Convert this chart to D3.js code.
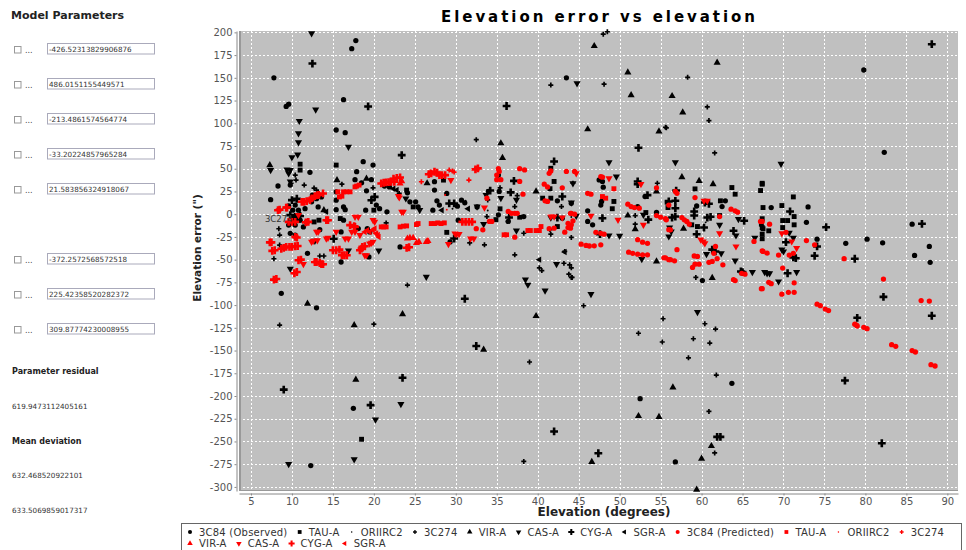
<!DOCTYPE html>
<html>
<head>
<meta charset="utf-8">
<script src="https://cdn.jsdelivr.net/npm/d3@7"></script>
<style>
  body { margin: 0; background: #fff; }
  text { font-family: "DejaVu Sans", sans-serif; }
</style>
</head>
<body>
<script>
// values
const paramValues = ["-426.52313829906876", "486.0151155449571", "-213.4861574564774",
  "-33.20224857965284", "21.583856324918067", null, "-372.2572568572518",
  "225.42358520282372", "309.87774230008955"];
const residual = "619.9473112405161";
const meanDevs = ["632.468520922101", "633.5069859017317"];

const xTicks = d3.range(5, 91, 5);
const yTicks = d3.range(-300, 201, 25);

const seriesNames = ["3C84", "TAU-A", "ORIIRC2", "3C274", "VIR-A", "CAS-A", "CYG-A", "SGR-A"];

// observed (black)
const obs3C84 = [[7.8,150],[17.3,182],[17.8,191],[16.3,126],[9.3,118.5],[9.6,121],[8.3,31],[7.4,16],[8.7,-87],
  [12.2,46],[15.4,92.6],[16.5,89.7],[16,-52.6],[19.4,-47],[23.2,-36],[27.4,35.7],[13,-103],[12.3,-276.5],
  [17.5,-213.5],[43.5,150],[48,29.7],[52.2,8.4],[54.5,2],[53.1,19.4],[59.4,9],[62.5,8.4],[60.1,-73],
  [56.8,-272.5],[63.7,-186],[52.5,-203],[68.5,7.3],[73,8],[72.8,-9],[74.1,-27.5],[77.6,-32],[79.8,158.6],
  [82.3,68],[85.7,-11],[80.2,-27.5],[82.1,-31.5],[87.8,-35.5],[86,-45.4],[87.9,-53],[10.4,10],[9.6,9],
  [10.1,4.4],[10.8,4.4],[11.6,6],[9.6,-12],[11.8,-8.5],[11.4,-14],[10.4,-23],[9.8,-21],[11.9,-43],
  [12.4,13.6],[13,17],[12.5,21],[13.6,19],[13.2,8],[13.4,-17],[15.4,24.6],[15.4,15.4],[16.3,8],[16.5,5],
  [15.4,5],[16.3,-6.6],[16,-19.5],[18.7,57.7],[17.9,46.7],[17.7,38],[18.5,34.5],[19.9,54],[19.7,38],
  [19.1,25.7],[19,4.4],[20.7,6],[20.3,10],[19.2,-15.8],[19.5,-19.5],[18.1,-15.8],[21.6,2.6],[21.3,31],
  [21.9,30],[24.1,23.5],[24.4,13.6],[25.1,13.6],[25.4,8],[27.4,26.5],[27.7,14.7],[28,10],[27.2,4.4],
  [28.9,22.8],[30.2,8.8],[30.3,-6.6],[29.3,-30.5],[30.7,15.4],[32.6,8],[31.1,12.5],[38.3,-2.6],[36.4,-8],
  [35.2,-0.7],[35.3,25],[35.2,43],[34,25],[42.4,14.7],[44.1,12],[43,-4.4],[47.5,37.7],[47.9,36],
  [47.8,14],[47.7,10],[46.1,3.7],[46.1,-8],[46.7,-11.7],[62.9,14.7],[9.8,32],[10.4,-12],[11,-6.6]];
const obsTAUA = [[11,55],[15.4,54],[24,26.5],[28.5,37.5],[28.9,-20],[41.6,50.5],[42,36],[41.5,28],[40.6,17.6],
  [41.6,17.6],[42.4,-13.6],[37.8,-3.3],[35.4,5.9],[34.9,-6],[49.3,14],[49.1,6],[53.2,1.8],[55.8,13.2],
  [55.9,7.3],[59.2,27.8],[63.7,29.3],[64.1,22],[67.4,34],[67.2,26],[67.5,7.3],[62.3,14.7],[62.2,-1.5],
  [58.8,-11.7],[59.5,-13.6],[67.4,-27],[67.4,-14.7],[67.3,-11],[67.4,-5],[67.4,33],[71.2,19],[69.8,9.5],
  [71.3,-2.6],[71.3,-11.7],[69.9,-7],[70.5,-7],[69.9,-14.7],[18.5,-247.6],[11,48.5],[13.3,-6.6],
  [15.9,-4.8],[20,4.4],[24.8,8],[12.7,-8.5],[10.2,-6.6],[10.8,-6.6],[67.5,-16],[67.4,-22],[68.2,-18.3]];
const obsORIIRC2 = [[14.4,-8.5],[29.6,6],[31.2,14.7],[36.2,-8],[44.1,-3],[60.5,-9],[33.9,4]];
const obs3C274 = [[8.4,-16],[8.5,-34],[7.8,-49],[11.5,32],[13.4,-46],[13.9,-46],[16.1,33],[8.5,-122],[20,-121],
  [24.1,-78],[41.6,142],[32.5,82],[43.3,-41],[43.2,-54],[43.9,-55.7],[44.2,-69.6],[43.8,-66],[40.5,-62],
  [40.2,-59],[39,-162.6],[38.3,-272],[37.2,-44.7],[38.3,-21],[37.2,8.4],[37.5,20.5],[35.4,29],[33.9,15.7],
  [33.8,-2.6],[33.5,-33.7],[44.3,34],[42.9,8.4],[41.5,-17],[41.6,-22],[44.1,-25.6],[48,198],[48.5,200.7],
  [48.1,143],[55.6,95.6],[54.6,34],[51.9,-1.5],[51.9,-11],[44.1,-59],[44.1,-69.6],[45.6,-100.7],
  [55.3,-115],[52.3,-131],[55.2,-140.6],[58.3,150.5],[60.7,118],[60.9,103],[55.7,95],[61.6,67.4],
  [59.3,-69.6],[60.4,-120.5],[61.7,-126.4],[59,-137],[61,-141.8],[58.4,-158],[61.8,-177],[60.9,-217],
  [61.6,-262.6],[12.7,28.7],[13,26.5],[19.9,29],[21.5,-9.6],[23.1,22.8],[31.7,-31.6],[10.4,43],[10.5,37.5],
  [8.5,-23],[9.9,34]];
const obsVIRA = [[7.3,54],[11.9,-98.5],[17.6,-122],[17.8,-182],[23.5,-110],[33.4,-149],[35.5,78],[35.7,62],
  [39.8,25],[39.8,-112],[46.9,185],[51,156],[51.4,131],[46.1,93.4],[54.8,91],[54.5,25],[51,-1.5],
  [51.9,-16.5],[54.5,-52],[52.3,-222],[54.8,-223],[46.6,-272.5],[61.9,166.7],[56.4,130],[57.7,112],
  [57.6,40.7],[59.7,36.6],[61.4,33],[57.8,-16],[61.3,-70],[56.5,-190.5],[61.2,-255],[60,-269],[59.4,-303],
  [19.1,39],[15.5,37.5],[26.5,34],[13.9,4.4]];
const obsCASA = [[7.4,48.5],[12.4,199],[12.9,115],[9.4,49],[9.8,48.5],[9.6,45],[10,62.5],[10.7,65.5],[10.8,79],
  [10.8,89],[10.9,102.5],[16.9,74],[9.8,-60],[12.8,-29.4],[16.9,-40],[26.4,-69],[9.6,-275],[17.6,-269.6],
  [20.2,-226],[23.3,-209],[37.4,15.7],[35.5,17.6],[33.7,21],[33.4,-11],[32.6,8.4],[37.4,-18],[41.6,-3.7],
  [42.3,-55],[40.9,-84],[38.5,-72],[38.8,-77.6],[44.8,144],[48.7,57],[49.6,41.4],[44.3,34],[44.7,-1.8],
  [44.1,12.8],[52.9,-0.7],[48.7,-23.4],[50,-23.8],[52.7,-49.5],[56,-24.5],[46.5,-88],[56.8,57],
  [56.1,-14.7],[56.3,-19],[62.2,-11.7],[64.5,-5.5],[64.2,-23.4],[60.6,-44],[62.4,-43],[64.1,-51],
  [66.2,-63.7],[67.7,-63.7],[66.5,-26],[59.5,-107.7],[69.7,55.3],[70.7,-20.5],[71.2,-26],[69.8,-39],
  [70,-41],[68,-65],[68.3,-65],[71.6,-63.7],[69.4,-74],[23.9,17.3],[25.6,4.4],[20.6,-40],[9.8,36]];
const obsCYGA = [[12.5,165.7],[19.3,118.5],[23.4,65],[9,-193],[19.6,-210],[23.5,-180],[32.5,-145],[31.1,-93],
  [36.2,119],[42,58],[43,19.4],[37.1,36.6],[36.7,24],[34.2,26],[36.5,-3.7],[42.4,-3.7],[42,-239],[52.3,73],
  [52.2,36],[52.2,33],[53.4,21],[53.5,-6],[47.9,-4.4],[47.6,-22],[47.4,-263],[56.9,26],[56,14],[56.8,14.7],
  [56.8,6.6],[56.4,-3.7],[56.8,-2.6],[59.1,3],[59.1,-1.5],[60.4,12.8],[60.9,11.4],[60.7,-3.7],[61.1,-2.9],
  [60.3,-14.7],[59.4,-22],[65.2,-7.3],[63.9,-18.3],[61.3,-39],[61.7,-41],[64.8,-63],[65,-63.7],[61.9,-245],
  [62.3,-245],[70.8,3],[75.2,-14.3],[70.3,-30.8],[73.8,-45.8],[74.1,-35.5],[78.7,-49],[70.5,-65],
  [71.2,-47.6],[71.5,-48.4],[79,-114],[77.5,-183],[88.1,187],[86.9,-10.6],[82.2,-91],[88.1,-111.7],
  [82,-252],[15.1,-27],[29.8,-26.8],[20.1,19],[19.7,15.4],[10.6,17],[10,15.5],[11,-2],[10.4,-3],[9.8,-1],
  [29.2,11.8],[29.8,11.8]];
const obsSGRA = [[14.2,2.6],[28.3,4.4],[31.5,6],[22.4,28],[22.8,26.5],[40.2,-50],[43.3,-41.5]];

// predicted (red)
const pred3C84 = [[33.8,17.6],[35.2,50],[35.3,47],[35,43],[35,38],[35.5,38],[37.8,50],[38.4,48.7],[41.6,47.6],
  [41.4,45],[43.5,47],[44.5,47],[37.8,36],[40.8,33],[41.2,30],[43,29],[38.2,22],[40.9,14.7],[41.2,14],
  [44,1],[44.3,-7.3],[43.7,-10],[36.4,3],[36.8,1],[37.2,1],[37.5,1],[34.1,-8],[34.4,-8],[37.2,-25.3],
  [41.4,-16],[42,-15.4],[43.3,-19.8],[43.7,-14.7],[32.5,-16],[33.3,-17.2],[32.6,50],[47.7,41.4],
  [47.9,40.7],[46.1,23],[46.5,22],[44.1,1],[44.5,0],[44.1,-11.7],[44,-15.4],[47.1,-20],[47.7,-21],
  [48.1,-22],[45.3,-33],[45.9,-34.4],[46.3,-35],[46.9,-34.8],[47.7,-33.7],[51,11],[51.4,8.4],[51.8,7.3],
  [52.4,6.6],[54.5,29],[52.2,-28],[52.8,-30.8],[53.4,-32],[51.1,-41.8],[51.6,-43],[52.2,-44],[52.8,-44.7],
  [53.4,-44.7],[54.5,-1.5],[55,-3.3],[55.7,-6.2],[56,10],[56,-17],[55.4,-48],[56,-50],[56.8,25],[57,23],
  [59.2,18.3],[63.6,5.5],[64.1,3.7],[64.4,2.2],[55.6,-5],[56.2,-17.2],[57.6,-3.7],[57.9,-6.2],[58.2,-8],
  [58.5,-11],[62.2,-2.6],[61.7,-35.5],[61.5,-43],[61.9,-49],[60.9,-53],[61.3,-52],[59.1,-46],[59.5,-46.5],
  [58.9,-58.6],[59.2,-55],[59.7,-55],[57,-39],[55.6,-48],[56.2,-50],[56.7,-51.3],[62.6,-55.7],[63.9,-72],
  [64.1,-73],[64.9,-65],[65.3,-66],[66.4,-30],[67.2,-8],[67.5,-41],[67.3,-82],[67.4,-8],[68.3,-11],
  [70.3,-20],[72.8,-29],[73.8,-33.7],[67.4,-40.3],[68,-42.9],[69.4,-45],[70.7,-45],[71.2,-43],[69.9,-59.3],
  [67.4,-82],[68.2,-75],[68.5,-76.5],[71.3,-75.5],[69.8,-88],[70.6,-86],[71.3,-86],[74.1,-99],[74.5,-100.7],
  [75.1,-104.4],[75.5,-106],[77.4,-49],[78.7,-121],[79,-123],[82.2,-71.4],[86.8,-95],[87.8,-95.6],
  [78.9,-122],[79.8,-124.5],[80.2,-126],[83.2,-143.6],[83.7,-145.4],[85.7,-150],[86.1,-151.6],[88,-165.6],
  [88.5,-167]];
const predTAUA = [[15.6,24.6],[15.8,19],[16.1,19.8],[16.3,24.6],[16.7,24.6],[17.1,24.6],[17.7,30],[17.9,30.9],
  [18.2,32],[20.9,-14],[21.2,-14],[21.5,-14],[23.2,-14],[23.6,-13.2],[24,-12.9],[25.2,-11.4],[25.4,-10.3],
  [27,-10.3],[27.4,-10.3],[27.8,-9.6],[28.2,-10.3],[28.6,-9.6],[35.9,-22.7],[36.2,-22.7],[38.8,-18],
  [39.1,-18],[39.8,-18],[40.2,-18],[40.4,-13.6],[49.3,28],[47.9,19.4],[48.3,17.6]];
const predORIIRC2 = [[28.7,21],[28.9,5]];
const pred3C274 = [[25.8,35.7],[31.6,37.5],[29.2,48.5],[29.6,47.4],[29.8,46.3]];
const predVIRA = [[24.1,-26.8],[24.4,-26],[24.8,-26],[25.2,-31.6],[25.5,-30.5],[26.4,-30.5],[26.6,-29.4],
  [23.2,33.8],[23.4,36.4]];
const predCASA = [[10.8,-1],[11.4,-55],[13,-19.5],[13.2,-19.5],[12.4,-30.5],[12.6,-29.4],[13.1,-28.7],
  [14.2,-26.8],[14.4,-26],[15.4,-19.5],[16.5,-26.8],[16.9,-26.8],[17.3,-19.5],[17.7,-19.5],[17.7,-3],
  [18.1,-3],[18.9,-45.2],[19.1,-45.2],[18.3,-23],[19.5,-32.4],[19.7,-31.6],[19.9,-30.5],[20.1,-8.5],
  [19.9,-6.6],[23,19.8],[23.1,18.4],[23.4,2.6],[23.6,2.6],[29.4,37.5],[29.1,-33],[29.9,-21.3],[30.1,-22],
  [30.4,-22],[31.8,-26.8],[32.2,-26.8],[33.5,7.3],[41.6,-2.6],[42,-2.6],[43,-3.7],[44.7,45],[48.7,39.5],
  [46.5,-1.8],[49.8,-6.2],[52.6,33],[52.9,-11.7],[60.3,14.7],[60.7,14.7],[59.9,-28],[60.2,-30],[60.4,-32],
  [62.2,-21],[69.8,-21],[71,-30],[71.6,-37.4],[64.2,-35.5]];
const predCYGA = [[7.3,-31],[7.5,-31],[7.6,-40.4],[7.9,-39.7],[7.8,-72],[8.1,-71.3],[8.3,4.4],[8.5,5],[9.3,7.3],
  [9.4,7.3],[8.7,-38],[9,-37],[9.3,-36],[9.7,-36],[10,-36],[10.4,-35.3],[10.7,-35],[9.6,-8.5],[10,-8.5],
  [10.4,-8.5],[10.3,-65],[10.6,-63.6],[10.4,-25],[10.6,-25.7],[11.2,13.6],[11.5,13.6],[11.8,14.3],
  [12.2,15.4],[12.4,17.3],[10.8,-50.7],[11.1,-50],[11.7,-9],[12,-8.5],[12.8,-52.6],[13,-52.6],[13.4,-53.7],
  [13.6,-55],[13.8,-55],[12.8,19.8],[13.1,21],[13.3,21.3],[13.8,22.8],[14.2,-6.6],[14.4,-6.6],[15,-39.7],
  [15.4,-39.7],[15.8,-39],[16.1,-45.2],[16.4,-45.2],[16.7,-45.2],[17.1,-12],[17.6,-13.2],[17.7,-14],
  [18.3,-39.7],[18.5,-37.9],[18.6,-36],[18.9,-35.3],[20.9,33.8],[21.2,34.6],[21.5,35],[21.8,35.3],
  [22.1,35.7],[22.5,35.7],[22.4,39],[22.8,40],[23.2,40.4],[24,-37],[24.3,-36.4],[26.7,44],[27,44.8],
  [27.4,46.7],[27.7,45.6],[28,43],[28.3,43],[28.7,43],[30.8,-8.5],[31.2,-8.5],[31.6,-8.5],[32,-8.5],
  [32.4,49.3],[32.7,50.4]];
const predSGRA = [[20.3,-21.3],[20.5,-23],[20.6,-25],[18.9,-19.5],[19.2,-17.6],[19.5,-19.5],[19.9,-17.6],
  [20.1,-15.8]];

const observed = [obs3C84, obsTAUA, obsORIIRC2, obs3C274, obsVIRA, obsCASA, obsCYGA, obsSGRA];
const predicted = [pred3C84, predTAUA, predORIIRC2, pred3C274, predVIRA, predCASA, predCYGA, predSGRA];

// marker per series: [d3 symbol, area, rotation]
const shapes = [
  [d3.symbolCircle, 22, 0],
  [d3.symbolSquare, 24, 0],
  [d3.symbolCircle, 3, 0],
  [d3.symbolCross, 14, 0],
  [d3.symbolTriangle, 22, 0],
  [d3.symbolTriangle, 22, 180],
  [d3.symbolCross, 34, 0],
  [d3.symbolTriangle, 18, -90]
];

const W = 966, H = 550;
const svg = d3.select("body").append("svg").attr("width", W).attr("height", H);

// ---- left panel
const side = svg.append("g");
side.append("text").attr("x", 11).attr("y", 18.5).attr("font-size", 11).attr("font-weight", "bold")
  .attr("fill", "#222").text("Model Parameters");
paramValues.forEach((v, i) => {
  if (v === null) return;
  const top = 43 + i * 35;
  side.append("rect").attr("x", 14.5).attr("y", top + 3.5).attr("width", 6.5).attr("height", 6.5)
    .attr("fill", "#fff").attr("stroke", "#999");
  side.append("text").attr("x", 25).attr("y", top + 10).attr("font-size", 8).attr("fill", "#444").text("...");
  side.append("rect").attr("x", 47.5).attr("y", top + 0.5).attr("width", 107).attr("height", 10.5)
    .attr("fill", "#fff").attr("stroke", "#aab");
  side.append("text").attr("x", 49).attr("y", top + 8.8).attr("font-size", 7.2).attr("fill", "#333").text(v);
});
side.append("text").attr("x", 12).attr("y", 374).attr("font-size", 8).attr("font-weight", "bold")
  .attr("fill", "#222").text("Parameter residual");
side.append("text").attr("x", 12).attr("y", 408.5).attr("font-size", 7.2).attr("fill", "#333").text(residual);
side.append("text").attr("x", 12).attr("y", 444).attr("font-size", 8).attr("font-weight", "bold")
  .attr("fill", "#222").text("Mean deviation");
meanDevs.forEach((v, i) => {
  side.append("text").attr("x", 12).attr("y", 478 + i * 35).attr("font-size", 7.2).attr("fill", "#333").text(v);
});

// ---- chart
const x = d3.scaleLinear().domain([3.54, 91.3]).range([239, 958]);
const y = d3.scaleLinear().domain([-304.5, 201.5]).range([491, 31]);

// title is letter-spaced in the original
svg.append("text").attr("x", 598).attr("y", 22).attr("text-anchor", "middle")
  .attr("font-size", 15).attr("font-weight", "bold").attr("fill", "#000")
  .attr("textLength", 314).attr("lengthAdjust", "spacing")
  .text("Elevation error vs elevation");

svg.append("rect").attr("x", 239).attr("y", 31).attr("width", 719).attr("height", 460).attr("fill", "#c0c0c0");

const grid = svg.append("g").attr("stroke", "#fff").attr("stroke-dasharray", "2,2").attr("stroke-width", 1);
grid.selectAll(".gx").data(xTicks).enter().append("line")
  .attr("x1", d => Math.round(x(d)) + 0.5).attr("x2", d => Math.round(x(d)) + 0.5)
  .attr("y1", 31).attr("y2", 491);
grid.selectAll(".gy").data(yTicks).enter().append("line")
  .attr("y1", d => Math.round(y(d)) + 0.5).attr("y2", d => Math.round(y(d)) + 0.5)
  .attr("x1", 239).attr("x2", 958);

// plot edges
svg.append("line").attr("x1", 240).attr("x2", 240).attr("y1", 31).attr("y2", 491).attr("stroke", "#999").attr("stroke-width", 2);
svg.append("line").attr("x1", 239).attr("x2", 958).attr("y1", 490.5).attr("y2", 490.5).attr("stroke", "#999");

const yAxis = svg.append("g").attr("transform", "translate(236.5,0)")
  .call(d3.axisLeft(y).tickValues(yTicks).tickSize(2).tickSizeOuter(0).tickPadding(2).tickFormat(d => String(d)));
const xAxis = svg.append("g").attr("transform", "translate(0,493.5)")
  .call(d3.axisBottom(x).tickValues(xTicks).tickSize(2).tickSizeOuter(0).tickPadding(2).tickFormat(d => String(d)));
[yAxis, xAxis].forEach(a => {
  a.selectAll("path.domain").attr("stroke", "#888");
  a.selectAll(".tick line").attr("stroke", "#888");
  a.selectAll("text").attr("font-family", "DejaVu Sans").attr("font-size", 10).attr("fill", "#555");
});

svg.append("text").attr("x", 604).attr("y", 516).attr("text-anchor", "middle")
  .attr("font-size", 12).attr("font-weight", "bold").attr("fill", "#222").text("Elevation (degrees)");
svg.append("text").attr("transform", "translate(201,248) rotate(-90)").attr("text-anchor", "middle")
  .attr("font-size", 10.5).attr("font-weight", "bold").attr("fill", "#222").text("Elevation error (\")");

// markers
function symbolPath(i, scale) {
  const s = shapes[i];
  return d3.symbol().type(s[0]).size(s[1] * (scale || 1))();
}
const marks = svg.append("g");
function drawSeries(data, i, color) {
  marks.append("g").selectAll("path").data(data).enter().append("path")
    .attr("d", symbolPath(i))
    .attr("transform", d => `translate(${x(d[0])},${y(d[1])}) rotate(${shapes[i][2]})`)
    .attr("fill", color);
}
observed.forEach((s, i) => drawSeries(s, i, "#000"));
predicted.forEach((s, i) => drawSeries(s, i, "#ff0000"));

svg.append("text").attr("x", x(6.7)).attr("y", y(-8.8)).attr("font-size", 8.5).attr("fill", "#333").text("3C274");

// ---- legend
const legend = svg.append("g");
legend.append("rect").attr("x", 181.5).attr("y", 523.5).attr("width", 780).attr("height", 40)
  .attr("fill", "#fff").attr("stroke", "#666");
const items = seriesNames.map((n, i) => ({ label: i === 0 ? n + " (Observed)" : n, i, color: "#000" }))
  .concat(seriesNames.map((n, i) => ({ label: i === 0 ? n + " (Predicted)" : n, i, color: "#ff0000" })));
let lx = 190, row = 0;
items.forEach(it => {
  const g = legend.append("g");
  const t = g.append("text").attr("font-size", 10).attr("letter-spacing", 0.22).attr("fill", "#333").text(it.label);
  const w = t.node().getComputedTextLength();
  if (lx + 9 + w > 958) { row += 1; lx = 190; }
  const cy = 532 + row * 11.5;
  g.append("path").attr("d", symbolPath(it.i, 0.6))
    .attr("transform", `translate(${lx},${cy}) rotate(${shapes[it.i][2]})`).attr("fill", it.color);
  t.attr("x", lx + 9).attr("y", cy + 3.5);
  lx += 9 + w + 12.2;
});
</script>
</body>
</html>
